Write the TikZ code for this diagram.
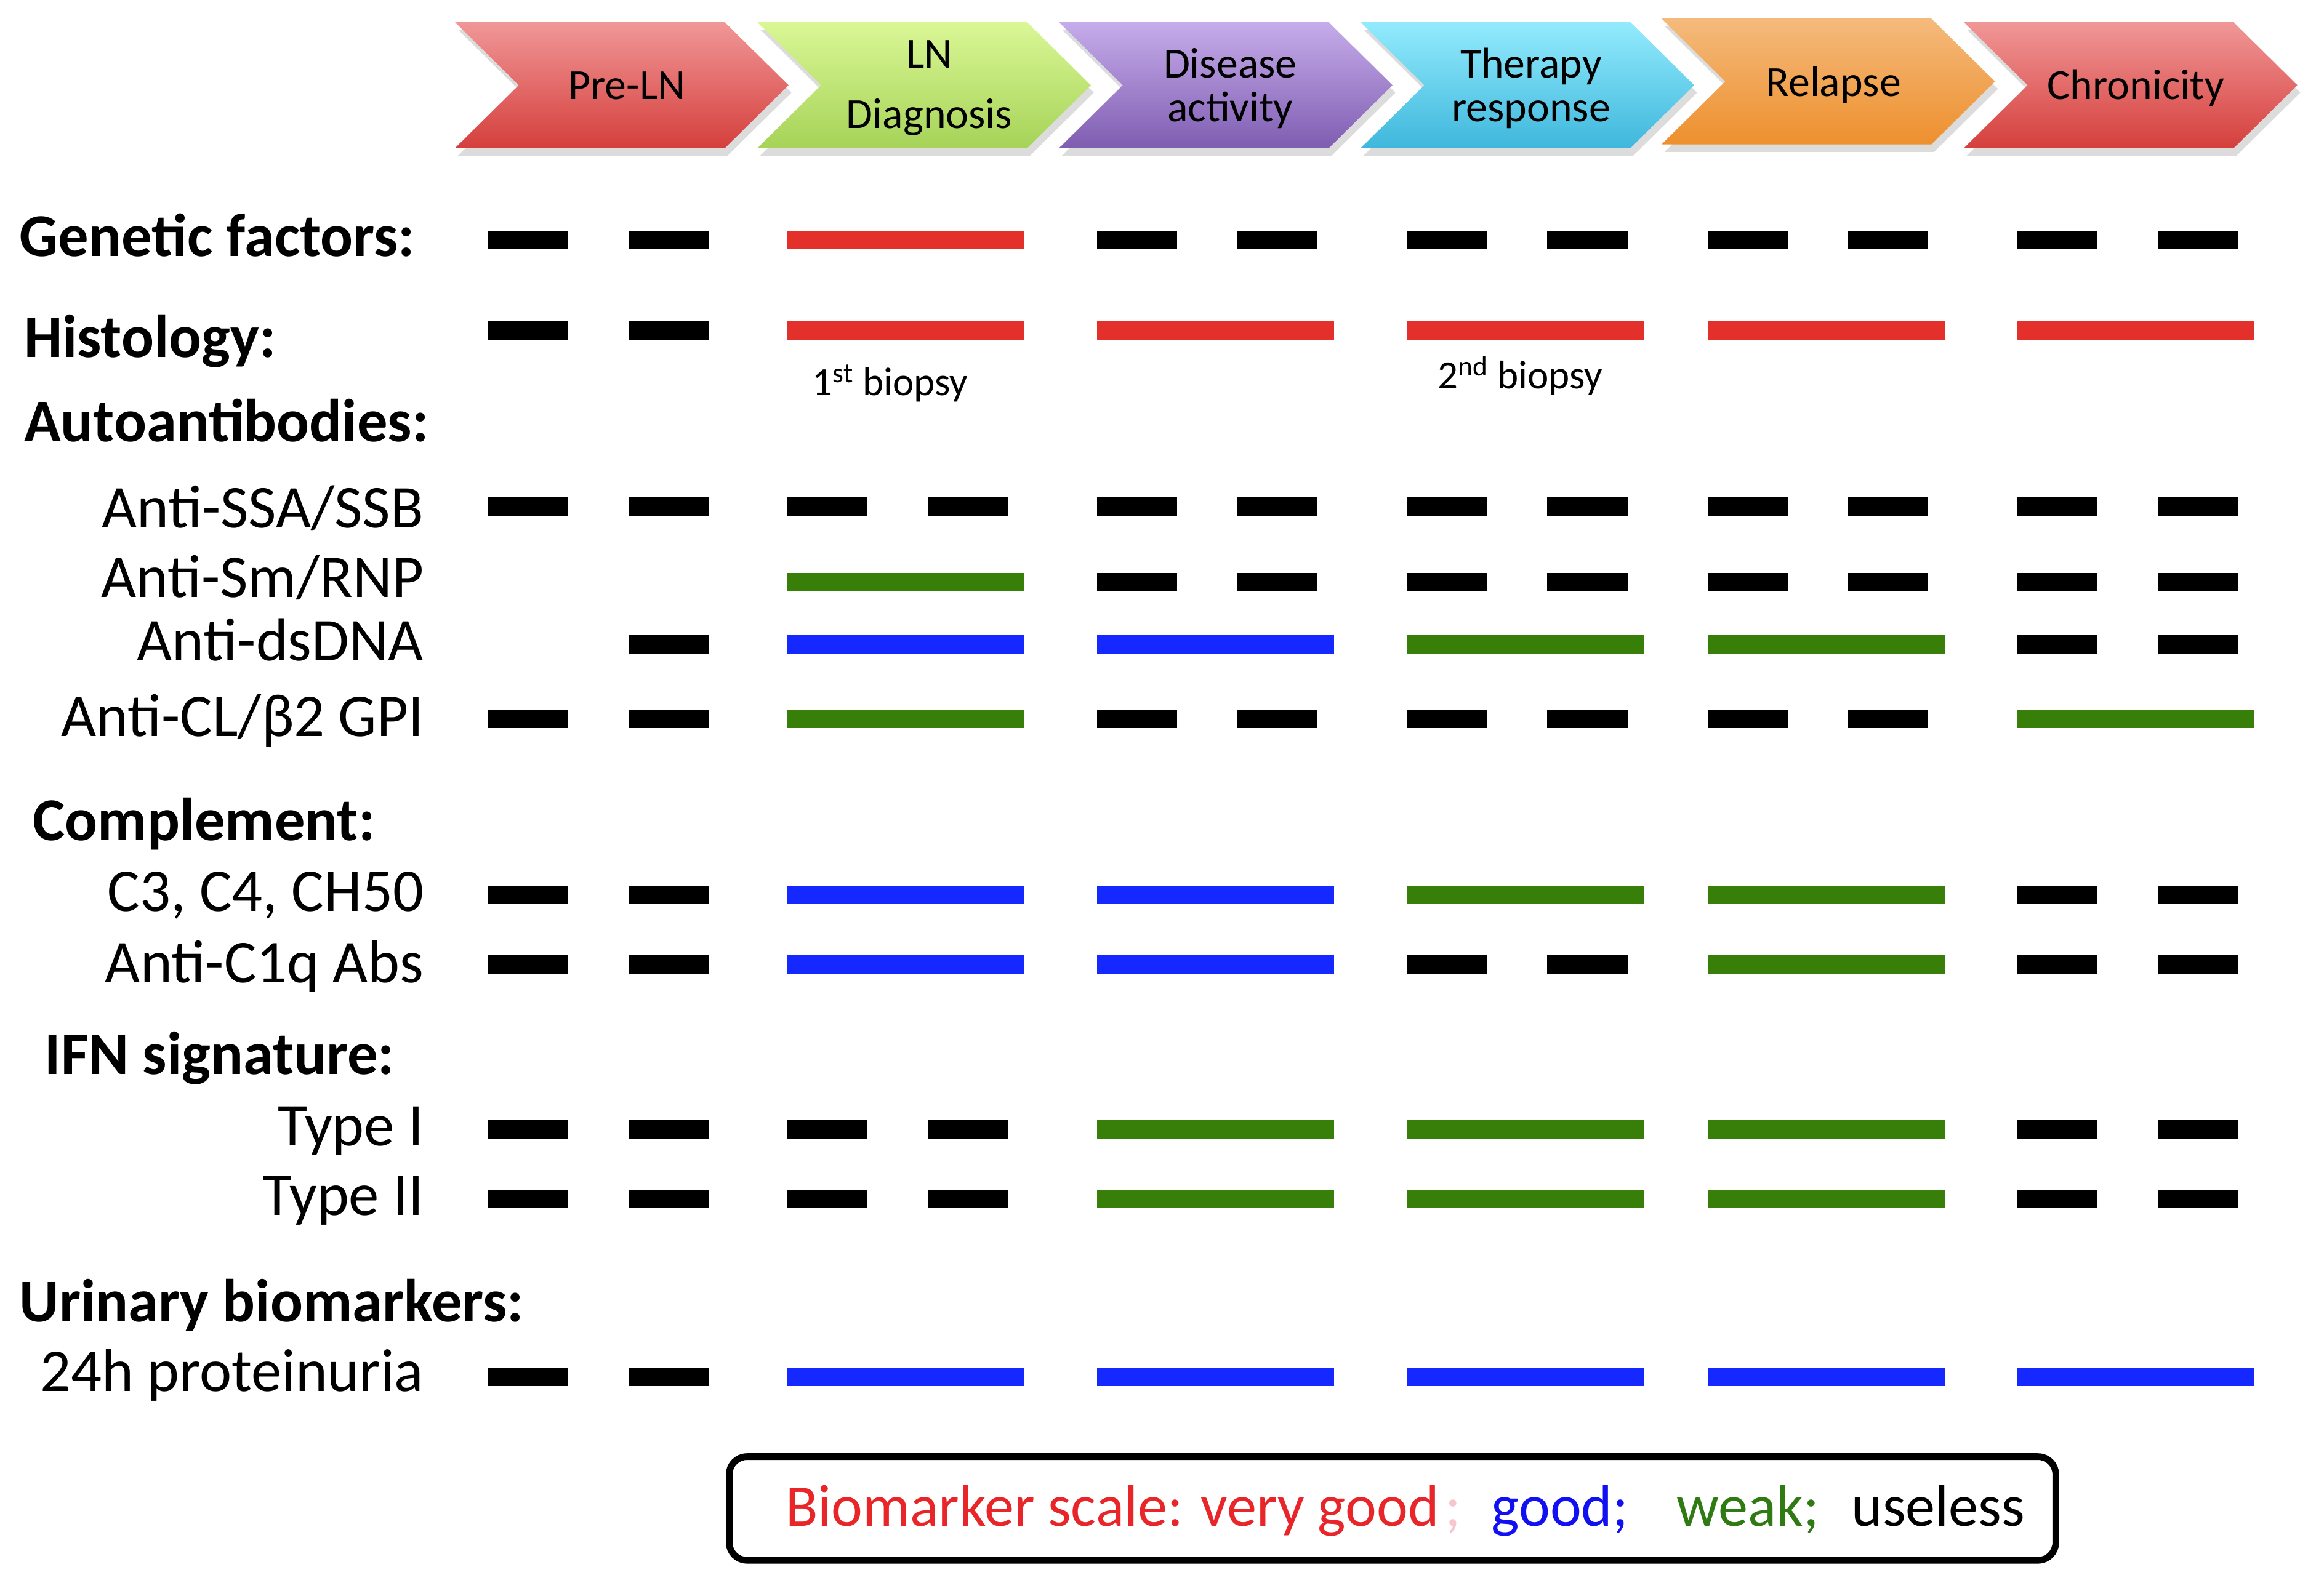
\documentclass[tikz,border=0pt]{standalone}
\usepackage{fontspec}
\setmainfont{Carlito}
\usetikzlibrary{shadows}
\definecolor{cred}{HTML}{E3302A}
\definecolor{cblue}{HTML}{1428FF}
\definecolor{cgreen}{HTML}{387F0A}
\definecolor{lred}{HTML}{E8262A}
\definecolor{lblue}{HTML}{1010F2}
\definecolor{lgreen}{HTML}{2F7A12}
\definecolor{faint}{HTML}{F5C6CE}
\definecolor{redT}{HTML}{F09797}
\definecolor{redB}{HTML}{D53F3C}
\definecolor{grnT}{HTML}{DAF796}
\definecolor{grnB}{HTML}{A6D358}
\definecolor{purT}{HTML}{C6ACEA}
\definecolor{purB}{HTML}{7F5DB2}
\definecolor{cyaT}{HTML}{93EBFD}
\definecolor{cyaB}{HTML}{3FB7DC}
\definecolor{oraT}{HTML}{F4BA7C}
\definecolor{oraB}{HTML}{EE902E}
\newcommand\chevron[4]{\path[drop shadow={opacity=0.28,shadow xshift=2pt,shadow yshift=-5pt},top color=#3,bottom color=#4] (#1,#2) -- ++(182,0) -- ++(43,42.5) -- ++(-43,42.5) -- ++(-182,0) -- ++(43,-42.5) -- cycle;}
\newcommand\dd[2]{\draw[bar] (#1,#2) -- +(54,0) (#1+95,#2) -- +(54,0);}
\newcommand\sd[2]{\draw[bar] (#1+95,#2) -- +(54,0);}
\newcommand\fb[3]{\draw[bar,#3] (#1,#2) -- +(160,0);}
\begin{document}
\begin{tikzpicture}[x=1pt,y=-1pt,
  bar/.style={line width=12.5pt},
  hdr/.style={font=\bfseries\fontsize{41}{49}\selectfont, inner sep=0pt, anchor=base west},
  sub/.style={font=\fontsize{41}{49}\selectfont, inner sep=0pt, anchor=base east},
  chevtext/.style={font=\fontsize{29}{35}\selectfont, inner sep=0pt, anchor=base},
  note/.style={font=\fontsize{27}{32}\selectfont, inner sep=0pt, anchor=base west},
  leg/.style={font=\fontsize{40}{48}\selectfont, inner sep=0pt, anchor=base west}]
\useasboundingbox (0,0) rectangle (1568,1068);
% chevrons
\chevron{307}{15}{redT}{redB}
\chevron{511}{15}{grnT}{grnB}
\chevron{714.5}{15}{purT}{purB}
\chevron{918}{15}{cyaT}{cyaB}
\chevron{1121}{12.5}{oraT}{oraB}
\chevron{1325}{15}{redT}{redB}
\node[chevtext] (c1) at (423,67) {Pre-LN};
\node[chevtext] (c2a) at (627,46) {LN};
\node[chevtext] (c2b) at (627,86.5) {Diagnosis};
\node[chevtext] (c3a) at (830,52.5) {Disease};
\node[chevtext] (c3b) at (830,82) {activity};
\node[chevtext] (c4a) at (1033,52.5) {Therapy};
\node[chevtext] (c4b) at (1033,82) {response};
\node[chevtext] (c5) at (1237,65) {Relapse};
\node[chevtext] (c6) at (1441,67) {Chronicity};
% labels
\node[hdr] (genetic) at (13,173) {Genetic factors:};
\node[hdr] (histo) at (16,241) {Histology:};
\node[hdr] (auto) at (16,298) {Autoantibodies:};
\node[sub] (ssa) at (286,356) {Anti-SSA/SSB};
\node[sub] (sm) at (286,403) {Anti-Sm/RNP};
\node[sub] (ds) at (286,446) {Anti-dsDNA};
\node[sub] (cl) at (286,497) {Anti-CL/β2 GPI};
\node[hdr] (compl) at (22,567) {Complement:};
\node[sub] (c3) at (286,615) {C3, C4, CH50};
\node[sub] (c1q) at (286,663) {Anti-C1q Abs};
\node[hdr] (ifn) at (30,725) {IFN signature:};
\node[sub] (t1) at (286,773) {Type I};
\node[sub] (t2) at (286,820) {Type II};
\node[hdr] (uri) at (13,892) {Urinary biomarkers:};
\node[sub] (prot) at (286,939) {24h proteinuria};
\node[note] (b1) at (548,267) {1\textsuperscript{st} biopsy};
\node[note] (b2) at (970,262.5) {2\textsuperscript{nd} biopsy};
% Genetic factors
\dd{329}{162} \fb{531}{162}{cred} \dd{740}{162} \dd{949}{162} \dd{1152}{162} \dd{1361}{162}
% Histology
\dd{329}{223} \fb{531}{223}{cred} \fb{740}{223}{cred} \fb{949}{223}{cred} \fb{1152}{223}{cred} \fb{1361}{223}{cred}
% Anti-SSA/SSB
\dd{329}{342} \dd{531}{342} \dd{740}{342} \dd{949}{342} \dd{1152}{342} \dd{1361}{342}
% Anti-Sm/RNP
\fb{531}{393}{cgreen} \dd{740}{393} \dd{949}{393} \dd{1152}{393} \dd{1361}{393}
% Anti-dsDNA
\sd{329}{435} \fb{531}{435}{cblue} \fb{740}{435}{cblue} \fb{949}{435}{cgreen} \fb{1152}{435}{cgreen} \dd{1361}{435}
% Anti-CL
\dd{329}{485} \fb{531}{485}{cgreen} \dd{740}{485} \dd{949}{485} \dd{1152}{485} \fb{1361}{485}{cgreen}
% C3
\dd{329}{604} \fb{531}{604}{cblue} \fb{740}{604}{cblue} \fb{949}{604}{cgreen} \fb{1152}{604}{cgreen} \dd{1361}{604}
% C1q
\dd{329}{651} \fb{531}{651}{cblue} \fb{740}{651}{cblue} \dd{949}{651} \fb{1152}{651}{cgreen} \dd{1361}{651}
% Type I
\dd{329}{762} \dd{531}{762} \fb{740}{762}{cgreen} \fb{949}{762}{cgreen} \fb{1152}{762}{cgreen} \dd{1361}{762}
% Type II
\dd{329}{809} \dd{531}{809} \fb{740}{809}{cgreen} \fb{949}{809}{cgreen} \fb{1152}{809}{cgreen} \dd{1361}{809}
% 24h
\dd{329}{929} \fb{531}{929}{cblue} \fb{740}{929}{cblue} \fb{949}{929}{cblue} \fb{1152}{929}{cblue} \fb{1361}{929}{cblue}
% legend
\draw[line width=4.5pt, rounded corners=12pt] (492,983) rectangle (1387,1053);
\node[leg, text=lred] (l1) at (530,1030) {Biomarker scale: very good};
\node[leg, text=faint] (l1b) at (975,1030) {;};
\node[leg, text=lblue] (l2) at (1006,1030) {good;};
\node[leg, text=lgreen] (l3) at (1131,1030) {weak;};
\node[leg, text=black] (l4) at (1249,1030) {useless};
\end{tikzpicture}
\end{document}
